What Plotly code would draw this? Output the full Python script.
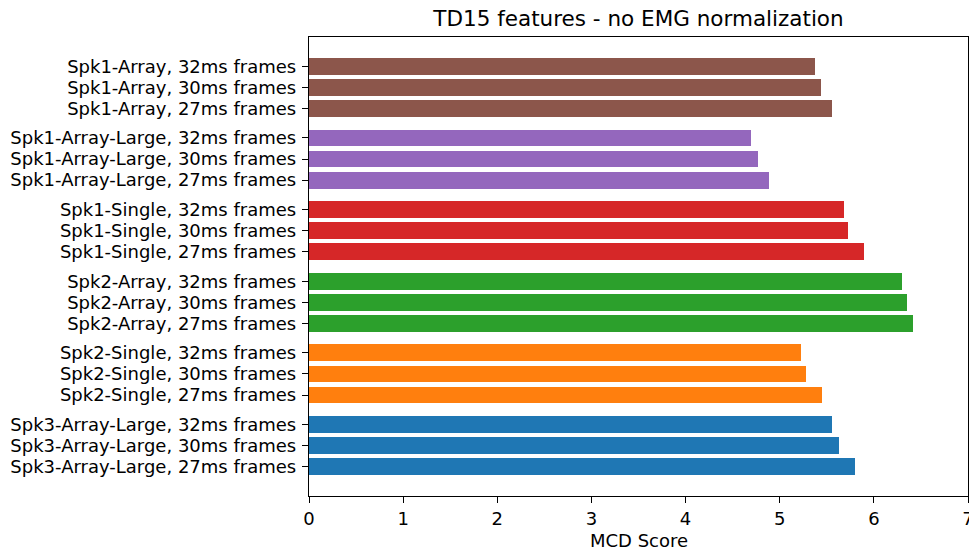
import plotly.graph_objects as go

# Data (bottom to top, as drawn)
groups = ["Spk3-Array-Large", "Spk2-Single", "Spk2-Array",
          "Spk1-Single", "Spk1-Array-Large", "Spk1-Array"]
frames = ["27ms", "30ms", "32ms"]
spk3_array_large = [5.80, 5.63, 5.56]
spk2_single = [5.45, 5.28, 5.23]
spk2_array = [6.42, 6.35, 6.30]
spk1_single = [5.90, 5.73, 5.68]
spk1_array_large = [4.89, 4.77, 4.70]
spk1_array = [5.56, 5.44, 5.38]
values = [spk3_array_large, spk2_single, spk2_array,
          spk1_single, spk1_array_large, spk1_array]
colors = ["#1f77b4", "#ff7f0e", "#2ca02c", "#d62728", "#9467bd", "#8c564b"]
x_ticks = [0, 1, 2, 3, 4, 5, 6, 7]

GROUP_STEP = 3.4
FONT = "DejaVu Sans"
W, H = 969, 551
ML, MR, MT, MB = 309, 1, 37, 55

fig = go.Figure()
tickvals, ticktext = [], []
for g, (name, vals, col) in enumerate(zip(groups, values, colors)):
    ys = [g * GROUP_STEP + i for i in range(len(frames))]
    labels = [f"{name}, {fr} frames" for fr in frames]
    tickvals += ys
    ticktext += labels
    fig.add_trace(go.Bar(
        x=vals, y=ys, orientation="h", width=0.8,
        marker=dict(color=col, line=dict(width=0)),
        name=name, customdata=labels,
        hovertemplate="%{customdata}: %{x:.2f}<extra></extra>",
    ))

ymax = (len(groups) - 1) * GROUP_STEP + len(frames) - 1
pad = 0.05 * (ymax + 0.8)
plot_h = H - MT - MB

fig.update_layout(
    width=W, height=H,
    margin=dict(l=ML, r=MR, t=MT, b=MB, autoexpand=False),
    paper_bgcolor="white", plot_bgcolor="white",
    showlegend=False, bargap=0,
    font=dict(family=FONT, size=18, color="black"),
    title=dict(text="TD15 features - no EMG normalization",
               x=0.5, xref="paper", xanchor="center",
               y=1 - 18 / H, yref="container", yanchor="middle",
               font=dict(family=FONT, size=21.5, color="black")),
    xaxis=dict(range=[0, 7], tickvals=x_ticks, ticks="outside",
               ticklen=6, tickwidth=1.4, tickcolor="black",
               ticklabeloverflow="allow",
               showline=True, linecolor="black", linewidth=1.4,
               mirror=True, showgrid=False, zeroline=False,
               tickfont=dict(family=FONT, size=18, color="black")),
    yaxis=dict(range=[-0.4 - pad, ymax + 0.4 + pad],
               tickvals=tickvals, ticktext=ticktext, ticks="outside",
               ticklen=6, tickwidth=1.4, tickcolor="black",
               ticklabeloverflow="allow", ticklabelstandoff=2,
               showline=True, linecolor="black", linewidth=1.4,
               mirror=True, showgrid=False, zeroline=False,
               tickfont=dict(family=FONT, size=18, color="black")),
    annotations=[dict(text="MCD Score", x=0.5, xref="paper",
                      y=-(540 - (H - MB)) / plot_h, yref="paper",
                      showarrow=False, xanchor="center", yanchor="middle",
                      font=dict(family=FONT, size=18, color="black"))],
)

fig.write_html(
    "out.html",
    config={"displayModeBar": False},
    post_script="document.body.style.margin='0';document.body.style.overflow='hidden';",
)
